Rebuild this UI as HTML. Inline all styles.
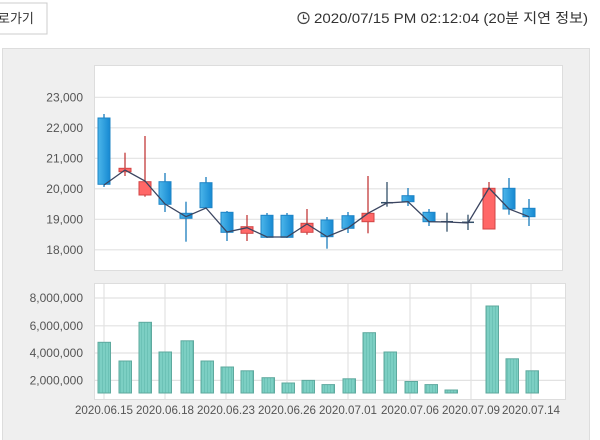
<!DOCTYPE html>
<html><head><meta charset="utf-8"><style>
body{margin:0;width:600px;height:440px;background:#fff;overflow:hidden;font-family:"Liberation Sans","Noto Sans CJK KR",sans-serif}
</style></head><body>
<svg width="600" height="440" xmlns="http://www.w3.org/2000/svg" style="position:absolute;left:0;top:0">
<defs>
<linearGradient id="bl" x1="0" x2="1" y1="0" y2="0"><stop offset="0" stop-color="#4cb6ea"/><stop offset="1" stop-color="#1689d2"/></linearGradient>
<pattern id="st" width="3" height="4" patternUnits="userSpaceOnUse"><rect width="3" height="4" fill="#7ccfc3"/><rect width="1" height="4" fill="#6cc2b6"/></pattern>
</defs>
<rect x="-1" y="3" width="48" height="31" fill="#fff" stroke="#ccc"/>
<text x="-2" y="23" font-size="13" fill="#333">로가기</text>
<circle cx="303.5" cy="18" r="5.5" fill="none" stroke="#444" stroke-width="1.2"/>
<path d="M303.5 14.5V18.5H306.5" fill="none" stroke="#444" stroke-width="1.2"/>
<text x="314" y="23" font-size="14" fill="#333" textLength="274" lengthAdjust="spacingAndGlyphs">2020/07/15 PM 02:12:04 (20분 지연 정보)</text>
<rect x="2.5" y="48.5" width="587" height="400" fill="#efefef" stroke="#ddd"/>
<rect x="94.5" y="65.5" width="468" height="205" fill="#fff" stroke="#ddd"/>
<g stroke="#e2e2e2" stroke-width="1.2">
<line x1="95" x2="562" y1="97.3" y2="97.3"/><line x1="95" x2="562" y1="127.8" y2="127.8"/><line x1="95" x2="562" y1="158.3" y2="158.3"/><line x1="95" x2="562" y1="188.8" y2="188.8"/><line x1="95" x2="562" y1="219.3" y2="219.3"/><line x1="95" x2="562" y1="249.8" y2="249.8"/>
</g>
<g font-size="12" fill="#555" text-anchor="end">
<text x="83" y="101.5">23,000</text><text x="83" y="132">22,000</text><text x="83" y="162.5">21,000</text><text x="83" y="193">20,000</text><text x="83" y="223.5">19,000</text><text x="83" y="254">18,000</text>
</g>
<g id="c" stroke-width="1"></g>
<rect x="94.5" y="283.5" width="471" height="116" fill="#fff" stroke="#ddd"/>
<g stroke="#e2e2e2" stroke-width="1.2">
<line x1="95" x2="565" y1="298" y2="298"/><line x1="95" x2="565" y1="325.8" y2="325.8"/><line x1="95" x2="565" y1="353" y2="353"/><line x1="95" x2="565" y1="380.4" y2="380.4"/>
<line x1="104" x2="104" y1="284" y2="399"/><line x1="165" x2="165" y1="284" y2="399"/><line x1="226" x2="226" y1="284" y2="399"/><line x1="287" x2="287" y1="284" y2="399"/><line x1="348" x2="348" y1="284" y2="399"/><line x1="410" x2="410" y1="284" y2="399"/><line x1="471" x2="471" y1="284" y2="399"/><line x1="531" x2="531" y1="284" y2="399"/>
</g>
<g font-size="12" fill="#555" text-anchor="end">
<text x="83" y="302">8,000,000</text><text x="83" y="330">6,000,000</text><text x="83" y="357">4,000,000</text><text x="83" y="384.5">2,000,000</text>
</g>
<g font-size="11.6" fill="#555" text-anchor="middle">
<text x="104" y="414">2020.06.15</text><text x="165" y="414">2020.06.18</text><text x="226" y="414">2020.06.23</text><text x="287" y="414">2020.06.26</text><text x="348" y="414">2020.07.01</text><text x="410" y="414">2020.07.06</text><text x="471" y="414">2020.07.09</text><text x="531" y="414">2020.07.14</text>
</g>
<g id="v"></g>
</svg>
<script>
var C=[[104,'b',118,184.3,114,187,185],[125,'r',168.3,171.7,152.7,176,170],[145,'r',181.7,195,136,196.7,181],[165,'b',181.7,204.3,173,212,204],[186,'b',213.3,218.3,201.7,241.7,216.7],[206,'b',182.7,207.7,177,208,208],[227,'b',212.3,232.3,211,241,232],[247,'r',226.7,233.3,215,241,227.7],[267,'b',215.3,237.3,213,238,237],[287,'b',215.3,237.3,213,238,237],[307,'r',223.3,232.3,209,234.7,224],[327,'b',220,236.7,217,248.7,236.7],[348,'b',215.7,228.3,212,233,228],[368,'r',213.3,221.7,176,233.3,213.3],[387,'x',202.7,203.3,182,206.7,203],[408,'b',195.7,201.7,188,206,201.7],[429,'b',212.3,221.7,209,226,221.7],[447,'x',221.7,222.3,212.7,231.7,222],[468,'x',222.3,223,214.7,230,223],[489,'r',188.3,229,182,229,188],[509,'b',188.3,209,178,214.7,209],[529,'b',208.3,216.7,199,226,216.7]];
var s='',pts=[];
C.forEach(function(c){var x=c[0],t=c[1];var col=t=='r'?'#c23a3a':(t=='x'?'#34506a':'#1a7cbd');
s+='<line x1="'+x+'" x2="'+x+'" y1="'+c[4]+'" y2="'+c[5]+'" stroke="'+col+'" stroke-width="1.3"/>';
if(t=='x'){s+='<line x1="'+(x-6)+'" x2="'+(x+6)+'" y1="'+c[2]+'" y2="'+c[2]+'" stroke="'+col+'" stroke-width="1.5"/>';}
else s+='<rect x="'+(x-6)+'" y="'+c[2]+'" width="12" height="'+Math.max(2,c[3]-c[2])+'" fill="'+(t=='r'?'#ff6767':'url(#bl)')+'" stroke="'+(t=='r'?'#d24545':'#1e84c6')+'"/>';
pts.push(x+','+c[6]);});
s+='<polyline points="'+pts.join(' ')+'" fill="none" stroke="#3b4560" stroke-width="1.3"/>';
document.getElementById('c').innerHTML=s;
var V=[[104,342.3],[125,361],[145,322.3],[165,352],[187,340.8],[207,361],[227,367],[247,370.8],[268,377.7],[288,383],[308,380.4],[328,384.6],[349,378.8],[369,332.7],[390,352],[411,381.5],[431,384.6],[451,390],[492,306],[512,358.8],[532,370.8]];
var v='';V.forEach(function(b){v+='<rect x="'+(b[0]-6)+'" y="'+b[1]+'" width="12.5" height="'+(393-b[1])+'" fill="url(#st)" stroke="#5ea99e"/>';});
document.getElementById('v').innerHTML=v;
</script>
</body></html>
